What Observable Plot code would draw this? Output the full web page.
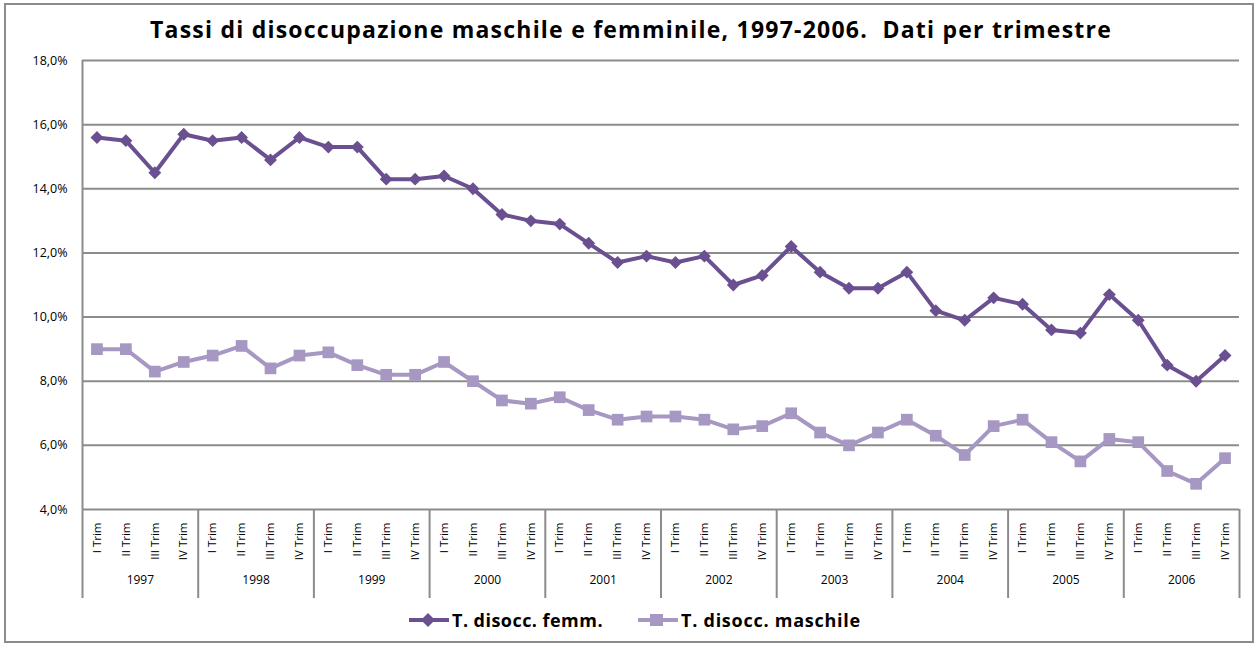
<!DOCTYPE html>
<html>
<head>
<meta charset="utf-8">
<script src="https://cdn.jsdelivr.net/npm/d3@7"></script>
<script src="https://cdn.jsdelivr.net/npm/@observablehq/plot@0.6"></script>
<style>
  html, body { margin: 0; padding: 0; background: #fff; }
  #wrap { position: relative; width: 1258px; height: 646px; overflow: hidden; font-family: "Open Sans", sans-serif; }
  #border { position: absolute; left: 4px; top: 3px; width: 1250px; height: 640px; border: 2px solid #8c8c8c; box-sizing: border-box; }
  #title { position: absolute; left: 150px; top: 13px; white-space: nowrap; font-weight: bold; font-size: 23px; color: #000; }
  #chart { position: absolute; left: 0; top: 40px; }
  #legend { position: absolute; top: 608px; left: 0; width: 1258px; font-weight: bold; font-size: 18px; color: #000; }
  .item { position: absolute; display: flex; align-items: center; white-space: nowrap; }
  .item svg { margin-right: 3px; }
</style>
</head>
<body>
<div id="wrap">
  <div id="border"></div>
  <div id="title"><span id="ttext">Tassi di disoccupazione maschile e femminile, 1997-2006.&nbsp; Dati per trimestre</span></div>
  <div id="chart"></div>
  <div id="legend"></div>
</div>
<script>
const years = ["1997","1998","1999","2000","2001","2002","2003","2004","2005","2006"];
const quarters = ["I Trim","II Trim","III Trim","IV Trim"];
const femm = [
  15.6, 15.5, 14.5, 15.7,
  15.5, 15.6, 14.9, 15.6,
  15.3, 15.3, 14.3, 14.3,
  14.4, 14.0, 13.2, 13.0,
  12.9, 12.3, 11.7, 11.9,
  11.7, 11.9, 11.0, 11.3,
  12.2, 11.4, 10.9, 10.9,
  11.4, 10.2, 9.9, 10.6,
  10.4, 9.6, 9.5, 10.7,
  9.9, 8.5, 8.0, 8.8
];
const masc = [
  9.0, 9.0, 8.3, 8.6,
  8.8, 9.1, 8.4, 8.8,
  8.9, 8.5, 8.2, 8.2,
  8.6, 8.0, 7.4, 7.3,
  7.5, 7.1, 6.8, 6.9,
  6.9, 6.8, 6.5, 6.6,
  7.0, 6.4, 6.0, 6.4,
  6.8, 6.3, 5.7, 6.6,
  6.8, 6.1, 5.5, 6.2,
  6.1, 5.2, 4.8, 5.6
];
const yTicks = [4, 6, 8, 10, 12, 14, 16, 18];
const seriesNames = ["T. disocc. femm.", "T. disocc. maschile"];
const colors = ["#6a5090", "#a698c2"];

const rows = [];
years.forEach((y, yi) => quarters.forEach((q, qi) => {
  const i = yi * 4 + qi;
  rows.push({i, year: y, q, femm: femm[i], masc: masc[i]});
}));
const yearRows = years.map((y, yi) => ({year: y, mid: yi * 4 + 1.5}));
const bounds = d3.range(0, years.length * 4 + 1, 4).map(b => b - 0.5);

const fmt = d => d.toFixed(1).replace(".", ",") + "%";

const chart = Plot.plot({
  width: 1258,
  height: 560,
  marginLeft: 82,
  marginRight: 19,
  marginTop: 20,
  marginBottom: 91,
  style: {fontFamily: "Open Sans, sans-serif", fontSize: "11px", color: "#000", background: "transparent"},
  x: {type: "linear", domain: [-0.5, years.length * 4 - 0.5], axis: null},
  y: {domain: [4, 18], ticks: yTicks, tickFormat: fmt, tickSize: 0, tickPadding: 15, label: null},
  marks: [
    Plot.gridY(yTicks, {stroke: "#8c8c8c", strokeOpacity: 1, strokeWidth: 2}),
    Plot.ruleX(bounds, {x: d => d, y1: 4, y2: 4, insetBottom: -89, stroke: "#8c8c8c", strokeWidth: 2}),
    Plot.ruleX([-0.5], {stroke: "#8c8c8c", strokeWidth: 2}),
    Plot.text(rows, {x: "i", text: "q", frameAnchor: "bottom", dy: 13, rotate: -90, textAnchor: "end", lineAnchor: "middle", fontSize: 11.5, fill: "#000"}),
    Plot.text(yearRows, {x: "mid", text: "year", frameAnchor: "bottom", dy: 74, fontSize: 12, fill: "#000"}),
    Plot.line(rows, {x: "i", y: "masc", stroke: colors[1], strokeWidth: 4}),
    Plot.dot(rows, {x: "i", y: "masc", symbol: "square", r: 6.6, fill: colors[1], stroke: "none"}),
    Plot.line(rows, {x: "i", y: "femm", stroke: colors[0], strokeWidth: 4}),
    Plot.dot(rows, {x: "i", y: "femm", symbol: "diamond2", r: 5.8, fill: colors[0], stroke: "none"}),
    Plot.axisY(yTicks, {tickFormat: fmt, tickSize: 0, tickPadding: 15, fontSize: 12.5, fill: "#000", style: {letterSpacing: "0.9px"}})
  ]
});
document.getElementById("chart").appendChild(chart);

// legend
const legend = document.getElementById("legend");
const lx = [409, 638];
const targetW = [151, 180];
seriesNames.forEach((name, k) => {
  const it = document.createElement("div");
  it.className = "item";
  it.style.left = lx[k] + "px";
  const sym = k === 0
    ? `<polygon points="19,3 26,10 19,17 12,10" fill="${colors[0]}"/>`
    : `<rect x="12" y="4" width="13" height="12" fill="${colors[1]}"/>`;
  it.innerHTML = `<svg width="40" height="20"><line x1="0" x2="40" y1="10" y2="10" stroke="${colors[k]}" stroke-width="4"/>${sym}</svg><span>${name}</span>`;
  legend.appendChild(it);
  const sp = it.querySelector("span");
  const w = sp.getBoundingClientRect().width;
  sp.style.letterSpacing = ((targetW[k] - w) / name.length) + "px";
});

// fit title width to reference
const tt = document.getElementById("ttext");
const tw = tt.getBoundingClientRect().width;
const n = tt.textContent.length;
tt.style.letterSpacing = ((962 - tw) / n) + "px";
</script>
</body>
</html>
